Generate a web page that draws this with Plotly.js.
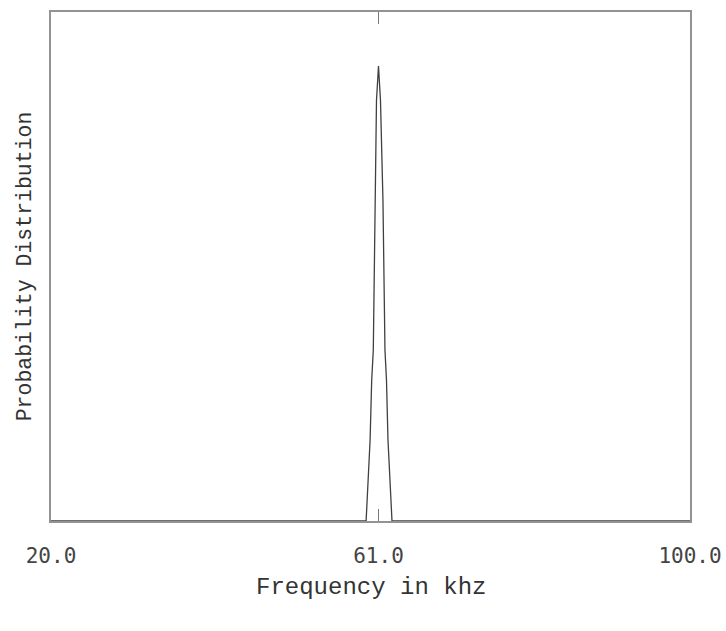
<!DOCTYPE html>
<html>
<head>
<meta charset="utf-8">
<script src="https://cdn.plot.ly/plotly-3.0.1.min.js"></script>
<style>html,body{margin:0;padding:0;background:#fff;}#chart{width:726px;height:631px;}</style>
</head>
<body>
<div id="chart"></div>
<script>
// Frequency (kHz) and probability distribution values
const frequency = [20.0, 59.2, 59.45, 59.95, 60.15, 60.35, 60.63, 60.75, 61.0, 61.25, 61.56, 61.81, 62.0, 62.19, 62.69, 62.9, 100.0];
const probability = [0, 0, 0.0, 0.178, 0.31, 0.376, 0.705, 0.925, 1.0, 0.925, 0.705, 0.376, 0.31, 0.178, 0.0, 0, 0];
const tickValues = [20, 61, 100];
const tickLabels = ["20.0", "61.0", "100.0"];
const xTitle = 'Frequency in khz';
const yTitle = 'Probability Distribution';

const trace = {
  x: frequency,
  y: probability,
  type: 'scatter',
  mode: 'lines',
  line: {color: '#404040', width: 1.3},
  hoverinfo: 'none'
};

const layout = {
  width: 726,
  height: 631,
  margin: {l: 51, r: 36, t: 12, b: 110},
  paper_bgcolor: '#ffffff',
  plot_bgcolor: '#ffffff',
  showlegend: false,
  xaxis: {
    range: [20, 100],
    tickmode: 'array',
    tickvals: tickValues,
    ticktext: tickLabels,
    ticks: 'inside',
    ticklen: 12,
    tickwidth: 1.5,
    tickcolor: '#777',
    showline: true,
    linecolor: '#939393',
    linewidth: 2,
    mirror: 'ticks',
    showgrid: false,
    zeroline: false,
    ticklabelstandoff: 15,
    tickfont: {family: 'DejaVu Sans Mono', size: 21, color: '#444'}
  },
  yaxis: {
    range: [0, 1.119],
    showticklabels: false,
    ticks: '',
    showline: true,
    linecolor: '#939393',
    linewidth: 2,
    mirror: true,
    showgrid: false,
    zeroline: true,
    zerolinecolor: '#939393',
    zerolinewidth: 4
  },
  annotations: [
    {text: xTitle, xref: 'paper', yref: 'paper', x: 0.5, y: -0.131, yanchor: 'middle', xanchor: 'center',
     showarrow: false, font: {family: 'Liberation Mono', size: 24, color: '#333'}},
    {text: yTitle, xref: 'paper', yref: 'paper', x: -0.041, y: 0.5, xanchor: 'center', yanchor: 'middle', textangle: -90,
     showarrow: false, font: {family: 'Liberation Mono', size: 21.5, color: '#333'}}
  ]
};

Plotly.newPlot('chart', [trace], layout, {staticPlot: true, displayModeBar: false});
</script>
</body>
</html>
